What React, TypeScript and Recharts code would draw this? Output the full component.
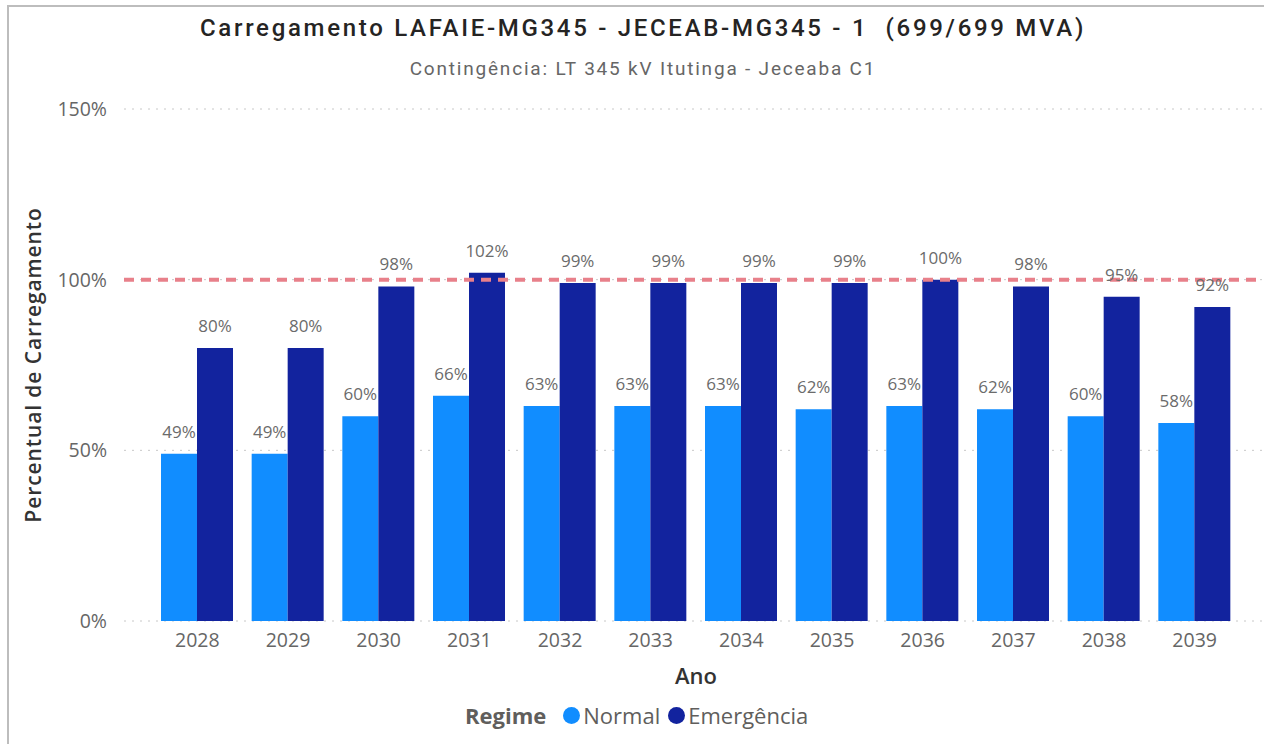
import {
  Bar,
  BarChart,
  CartesianGrid,
  LabelList,
  ReferenceLine,
  XAxis,
  YAxis,
} from "recharts";

const years = ["2028", "2029", "2030", "2031", "2032", "2033", "2034", "2035", "2036", "2037", "2038", "2039"];
const normal = [49, 49, 60, 66, 63, 63, 63, 62, 63, 62, 60, 58];
const emergencia = [80, 80, 98, 102, 99, 99, 99, 99, 100, 98, 95, 92];
const yTicks = [0, 50, 100, 150];

const data = years.map((ano, i) => ({
  ano,
  normal: normal[i],
  emergencia: emergencia[i],
}));

const uiFont = '"Open Sans", "Noto Sans", sans-serif';
const titleFont = 'Roboto, "DejaVu Sans", sans-serif';
const blue = "#118DFF";
const navy = "#12239E";

const tickStyle = { fontSize: 19.5, fill: "#666666", fontFamily: uiFont };
const labelStyle = { fontSize: 17, fill: "#6b6b6b", fontFamily: uiFont };

const pct = (v: number) => `${v}%`;

const dot = (color: string) => (
  <span
    style={{
      display: "inline-block",
      width: 17,
      height: 17,
      borderRadius: "50%",
      background: color,
      marginRight: 3,
    }}
  />
);

export default function App() {
  return (
    <div
      style={{
        position: "absolute",
        left: 0,
        top: 0,
        width: 1264,
        height: 744,
        background: "#ffffff",
        overflow: "hidden",
      }}
    >
      {/* visual border */}
      <div style={{ position: "absolute", left: 7, top: 5, width: 1260, height: 2, background: "#bdbdbd" }} />
      <div style={{ position: "absolute", left: 7, top: 5, width: 2, height: 760, background: "#bdbdbd" }} />

      <div
        style={{
          position: "absolute",
          left: 0,
          width: 1286,
          top: 14,
          textAlign: "center",
          fontFamily: titleFont,
          fontWeight: 500,
          fontSize: 24,
          letterSpacing: 2.7,
          color: "#252423",
          whiteSpace: "pre",
        }}
      >
        {"Carregamento LAFAIE-MG345 - JECEAB-MG345 - 1  (699/699 MVA)"}
      </div>
      <div
        style={{
          position: "absolute",
          left: 0,
          width: 1286,
          top: 57,
          textAlign: "center",
          fontFamily: titleFont,
          fontSize: 19,
          letterSpacing: 1.8,
          color: "#666666",
        }}
      >
        Contingência: LT 345 kV Itutinga - Jeceaba C1
      </div>

      <div
        style={{
          position: "absolute",
          left: 33,
          top: 365,
          transform: "translate(-50%, -50%) rotate(-90deg)",
          fontFamily: uiFont,
          fontWeight: 600,
          fontSize: 21,
          letterSpacing: 0.9,
          color: "#333333",
          whiteSpace: "nowrap",
        }}
      >
        Percentual de Carregamento
      </div>
      <div
        style={{
          position: "absolute",
          left: 696,
          top: 675,
          transform: "translate(-50%, -50%)",
          fontFamily: uiFont,
          fontWeight: 600,
          fontSize: 22,
          color: "#333333",
        }}
      >
        Ano
      </div>

      {/* legend */}
      <div
        style={{
          position: "absolute",
          left: 465,
          top: 715,
          transform: "translateY(-50%)",
          display: "flex",
          alignItems: "center",
          fontFamily: uiFont,
          fontSize: 22,
          color: "#605E5C",
          whiteSpace: "nowrap",
        }}
      >
        <span style={{ fontWeight: 700, marginRight: 17 }}>Regime</span>
        {dot(blue)}
        <span style={{ marginRight: 8 }}>Normal</span>
        {dot(navy)}
        <span>Emergência</span>
      </div>

      <div style={{ position: "absolute", left: 0, top: 0 }}>
        <BarChart
          width={1264}
          height={744}
          data={data}
          barGap={0}
          barSize={36}
          margin={{ top: 109, right: 2, bottom: 93, left: 24 }}
        >
          <CartesianGrid
            horizontal
            vertical={false}
            stroke="#c8c8c8"
            strokeDasharray="2 6"
          />
          <XAxis
            dataKey="ano"
            height={30}
            tick={tickStyle}
            tickLine={false}
            axisLine={false}
            tickSize={0}
            tickMargin={12}
            interval={0}
            padding={{ left: 28, right: 22 }}
          />
          <YAxis
            width={100}
            domain={[0, 150]}
            ticks={yTicks}
            tickFormatter={pct}
            tick={tickStyle}
            tickLine={false}
            axisLine={false}
            tickSize={0}
            tickMargin={17}
          />
          <Bar dataKey="normal" name="Normal" fill={blue} isAnimationActive={false}>
            <LabelList dataKey="normal" position="top" offset={16} formatter={pct} style={labelStyle} />
          </Bar>
          <Bar dataKey="emergencia" name="Emergência" fill={navy} isAnimationActive={false}>
            <LabelList dataKey="emergencia" position="top" offset={16} formatter={pct} style={labelStyle} />
          </Bar>
          <ReferenceLine
            y={100}
            stroke="#E8808A"
            strokeWidth={4}
            strokeDasharray="10 7"
            ifOverflow="extendDomain"
          />
        </BarChart>
      </div>
    </div>
  );
}
